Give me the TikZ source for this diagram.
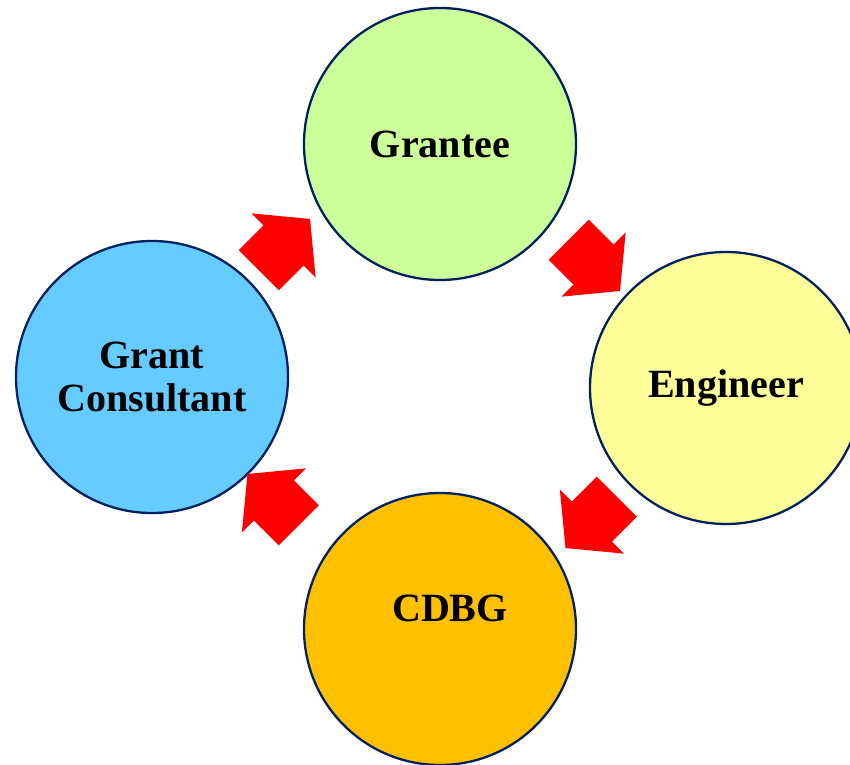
\documentclass[tikz,border=0pt]{standalone}
\usepackage{fontspec}
\setmainfont{Liberation Serif}
\usetikzlibrary{shapes.arrows}
\definecolor{granteegreen}{HTML}{CCFF99}
\definecolor{engineeryellow}{HTML}{FFFF99}
\definecolor{cdbgorange}{HTML}{FFC000}
\definecolor{consultantblue}{HTML}{66CCFF}
\definecolor{rimblue}{HTML}{002060}
\begin{document}
\begin{tikzpicture}[font=\fontsize{22.8}{24.5}\selectfont\bfseries,
            line join=round, line cap=round,
            stage/.style={circle, draw=rimblue, line width=1.3pt, minimum size=5.44cm,
                inner sep=0pt, align=center},
            flow/.style={single arrow, fill=red, draw=none, anchor=tail,
                inner xsep=0pt, inner ysep=0.56cm, minimum height=1.45cm,
                single arrow head extend=0.34cm, single arrow tip angle=101}]
            \clip (0,0) rectangle (17,15.3);
            \node[stage, fill=granteegreen] (grantee) at (8.8,12.42) {Grantee};
            \node[stage, fill=engineeryellow] (engineer) at (14.52,7.54) {Engineer};
            \node[stage, fill=cdbgorange,
                label={[xshift=0.2cm, yshift=0.42cm]center:CDBG}] (cdbg) at (8.8,2.72) {};
            \node[stage, fill=consultantblue] (consultant) at (3.04,7.76) {Grant\\Consultant};
            \node[flow, rotate=45] (toGrantee) at (5.17,9.89) {};
            \node[flow, rotate=-45] (toEngineer) at (11.37,10.51) {};
            \node[flow, rotate=-135] (toCdbg) at (12.34,5.37) {};
            \node[flow, rotate=135] (toConsultant) at (5.98,4.79) {};
        \end{tikzpicture}
\end{document}
